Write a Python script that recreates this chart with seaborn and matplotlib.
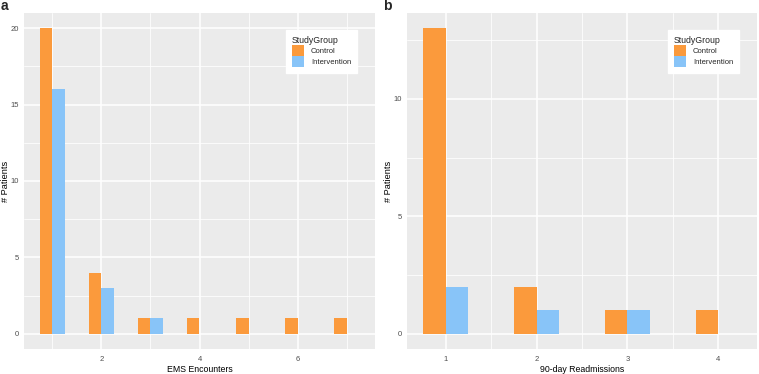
import matplotlib
matplotlib.use("Agg")
import matplotlib.pyplot as plt
import seaborn as sns
import pandas as pd
import numpy as np

# ---- data ----
groups = ["Control", "Intervention"]
ems_x = [1, 2, 3, 4, 5, 6, 7]
ems_control = [20, 4, 1, 1, 1, 1, 1]
ems_intervention = [16, 3, 1, None, None, None, None]
read_x = [1, 2, 3, 4]
read_control = [13, 2, 1, 1]
read_intervention = [2, 1, 1, None]

colors = {"Control": "#FB9A3C", "Intervention": "#88C4F8"}

def make_df(xs, c, i):
    rows = []
    for x, v in zip(xs, c):
        if v is not None:
            rows.append({"x": x, "n": v, "StudyGroup": "Control"})
    for x, v in zip(xs, i):
        if v is not None:
            rows.append({"x": x, "n": v, "StudyGroup": "Intervention"})
    return pd.DataFrame(rows)

df_a = make_df(ems_x, ems_control, ems_intervention)
df_b = make_df(read_x, read_control, read_intervention)

sns.set_theme(style="darkgrid")
plt.rcParams["font.family"] = ["Liberation Sans", "DejaVu Sans"]

fig = plt.figure(figsize=(7.59, 3.74), dpi=100)
W, H = 759, 374
ax1 = fig.add_axes([24 / W, 25 / H, (375 - 24) / W, (349 - 13) / H])
ax2 = fig.add_axes([407 / W, 25 / H, (757 - 407) / W, (349 - 13) / H])

def style(ax, df, xlim, ylim, xmaj, xmin, ymaj, ymin, xlabel, letter, lx):
    sns.barplot(data=df, x="x", y="n", hue="StudyGroup", hue_order=groups,
                palette=colors, native_scale=True, width=0.5, dodge=True,
                linewidth=0, ax=ax, errorbar=None, saturation=1)
    ax.set_facecolor("#EBEBEB")
    ax.set_xlim(*xlim)
    ax.set_ylim(*ylim)
    ax.set_xticks(xmaj)
    ax.set_xticks(xmin, minor=True)
    ax.set_yticks(ymaj)
    ax.set_yticks(ymin, minor=True)
    ax.set_xticklabels([str(v) for v in xmaj])
    ax.set_yticklabels([str(v) for v in ymaj])
    ax.grid(which="major", color="white", linewidth=1.1)
    ax.grid(which="minor", color="white", linewidth=0.55)
    ax.set_axisbelow(True)
    for s in ax.spines.values():
        s.set_visible(False)
    ax.tick_params(axis="both", which="major", length=2.75, width=0.6,
                   color="#333333", labelsize=5.5, labelcolor="#4D4D4D", pad=1.2)
    ax.tick_params(axis="x", which="major", pad=2)
    ax.tick_params(axis="both", which="minor", length=0)
    ax.set_xlabel(xlabel, fontsize=6.3, color="black")
    ax.set_ylabel("# Patients", fontsize=6.6, color="black")
    axw = ax.get_position().width * W
    axh = ax.get_position().height * H
    ax.yaxis.set_label_coords(-14 / axw, 0.5)
    ax.xaxis.set_label_coords(0.5, -(365 - 349) / axh)
    handles = [plt.Rectangle((0, 0), 1, 1, facecolor=colors[g], edgecolor="none") for g in groups]
    leg = ax.legend(handles, groups, title="StudyGroup", loc="upper right",
                    bbox_to_anchor=(1 - 18 / axw, 1 - 17 / axh), borderaxespad=0,
                    fontsize=5.5, title_fontsize=6.3, frameon=True, fancybox=False,
                    handlelength=1.6, handleheight=1.9, handletextpad=0.9,
                    labelspacing=0.0, borderpad=0.75)
    leg.get_frame().set_facecolor("white")
    leg.get_frame().set_edgecolor("white")
    leg.get_frame().set_alpha(1)
    leg._legend_box.align = "left"
    fig.text(lx, 1 - 6 / H, letter, fontsize=10, fontweight="bold", va="center", ha="left")

style(ax1, df_a, (0.425, 7.575), (-1.0, 21.0), [2, 4, 6], [1, 3, 5, 7],
      [0, 5, 10, 15, 20], [2.5, 7.5, 12.5, 17.5], "EMS Encounters", "a", 1 / W)
style(ax2, df_b, (0.575, 4.425), (-0.65, 13.65), [1, 2, 3, 4], [1.5, 2.5, 3.5],
      [0, 5, 10], [2.5, 7.5, 12.5], "90-day Readmissions", "b", 383 / W)

fig.savefig("out.png", dpi=100)
